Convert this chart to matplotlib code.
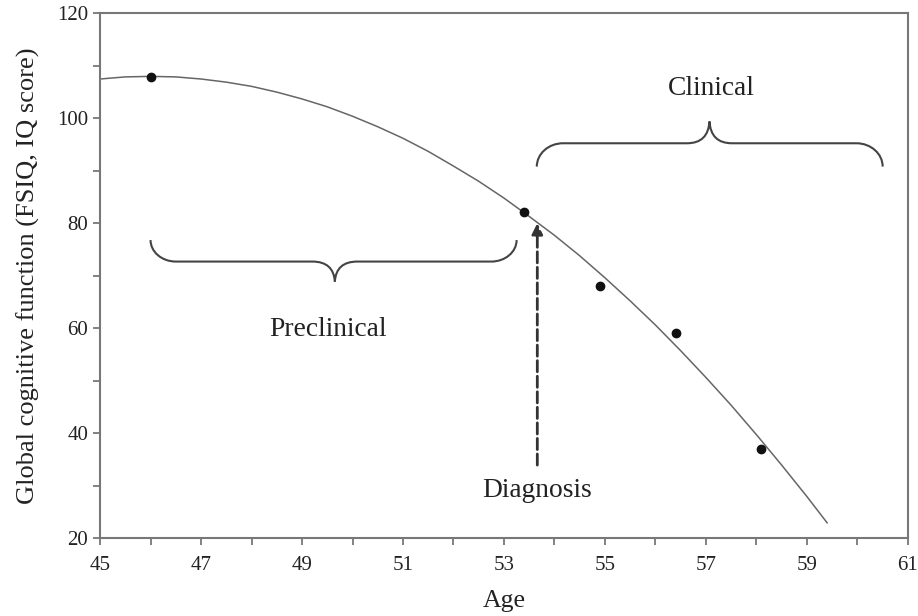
import numpy as np
import matplotlib
matplotlib.use("Agg")
import matplotlib.pyplot as plt
from matplotlib.path import Path
from matplotlib.patches import PathPatch
from matplotlib.ticker import FixedLocator

plt.rcParams['font.family'] = ['Liberation Serif', 'DejaVu Serif']

# observed scores
age_obs = [46.0, 53.4, 54.9, 56.4, 58.1]
iq_obs = [107.8, 82.2, 68.1, 59.0, 36.9]

# fitted trajectory
curve_age = [45.0, 45.5, 46.0, 46.5, 47.0, 47.5, 48.0, 48.5, 49.0, 49.5,
             50.0, 50.5, 51.0, 51.5, 52.0, 52.5, 53.0, 53.5, 54.0, 54.5,
             55.0, 55.5, 56.0, 56.5, 57.0, 57.5, 58.0, 58.5, 59.0, 59.4]
curve_iq = [107.5, 107.9, 108.0, 107.9, 107.5, 106.9, 106.1, 105.0, 103.7, 102.2,
            100.4, 98.4, 96.2, 93.7, 90.9, 88.0, 84.8, 81.3, 77.7, 73.8,
            69.6, 65.2, 60.6, 55.7, 50.6, 45.3, 39.7, 33.9, 27.9, 22.9]

x_major = [45, 47, 49, 51, 53, 55, 57, 59, 61]
x_minor = [46, 48, 50, 52, 54, 56, 58, 60]
y_major = [20, 40, 60, 80, 100, 120]
y_minor = [30, 50, 70, 90, 110]

diagnosis_age = 53.66


def brace(ax, x0, x1, xm, y_end, y_bar, y_tip, r=0.5, r2=0.45):
    k = 0.552
    verts = [
        (x0, y_end),
        (x0, y_end + k * (y_bar - y_end)), (x0 + (1 - k) * r, y_bar), (x0 + r, y_bar),
        (xm - r2, y_bar),
        (xm - r2 * 0.35, y_bar), (xm - 0.02, y_bar + 0.35 * (y_tip - y_bar)), (xm, y_tip),
        (xm + 0.02, y_bar + 0.35 * (y_tip - y_bar)), (xm + r2 * 0.35, y_bar), (xm + r2, y_bar),
        (x1 - r, y_bar),
        (x1 - (1 - k) * r, y_bar), (x1, y_end + k * (y_bar - y_end)), (x1, y_end),
    ]
    codes = [Path.MOVETO,
             Path.CURVE4, Path.CURVE4, Path.CURVE4,
             Path.LINETO,
             Path.CURVE4, Path.CURVE4, Path.CURVE4,
             Path.CURVE4, Path.CURVE4, Path.CURVE4,
             Path.LINETO,
             Path.CURVE4, Path.CURVE4, Path.CURVE4]
    ax.add_patch(PathPatch(Path(verts, codes), fill=False, edgecolor='#444444', lw=1.5))


fig = plt.figure(figsize=(9.18, 6.16), dpi=100)
ax = fig.add_axes([0.109, 0.1266, 0.88, 0.8516])

ax.plot(curve_age, curve_iq, color='#666666', lw=1.1, zorder=2)
ax.plot(age_obs, iq_obs, 'o', color='#111111', ms=6, zorder=3)

# diagnosis arrow
ax.annotate('', xy=(diagnosis_age, 80.0), xytext=(diagnosis_age, 33.9),
            arrowprops=dict(arrowstyle='-|>', linestyle=(0, (4, 1.6)), lw=2.0,
                            color='#333333', mutation_scale=16, shrinkA=0, shrinkB=0))
ax.text(diagnosis_age, 27.9, 'Diagnosis', ha='center', va='baseline', fontsize=19.8, color='#222222')

brace(ax, 46.0, 53.25, 49.65, 76.8, 72.7, 68.9, r=0.5, r2=0.45)
brace(ax, 53.65, 60.5, 57.07, 90.8, 95.25, 99.4, r=0.52, r2=0.45)
ax.text(49.52, 58.5, 'Preclinical', ha='center', va='baseline', fontsize=19.8, color='#222222')
ax.text(57.1, 104.5, 'Clinical', ha='center', va='baseline', fontsize=19.8, color='#222222')

ax.set_xlim(45, 61)
ax.set_ylim(20, 120)
ax.xaxis.set_major_locator(FixedLocator(x_major))
ax.xaxis.set_minor_locator(FixedLocator(x_minor))
ax.yaxis.set_major_locator(FixedLocator(y_major))
ax.yaxis.set_minor_locator(FixedLocator(y_minor))
ax.tick_params(which='both', direction='out', color='#777777', labelsize=15,
               labelcolor='#222222', width=1.3, length=5)
ax.tick_params(axis='x', which='major', pad=8)
for s in ax.spines.values():
    s.set_color('#777777')
    s.set_linewidth(1.5)

ax.set_xlabel('Age', fontsize=18.5, color='#222222', labelpad=11)
ax.set_ylabel('Global cognitive function (FSIQ, IQ score)', fontsize=19, color='#222222', labelpad=12)

fig.savefig('out.png', dpi=100)
